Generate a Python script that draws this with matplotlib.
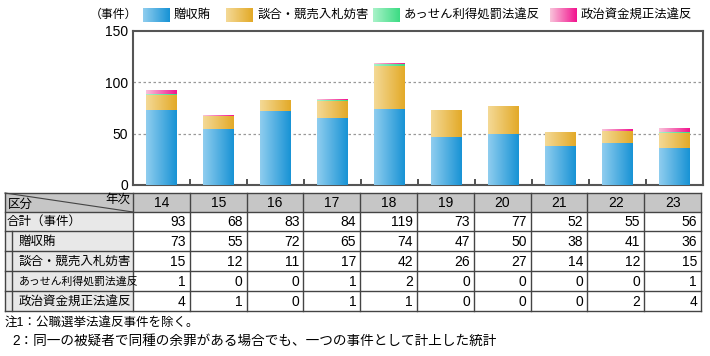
import numpy as np
import matplotlib
matplotlib.use('Agg')
import matplotlib.pyplot as plt
from matplotlib.colors import LinearSegmentedColormap

plt.rcParams['font.family'] = ['Liberation Sans', 'Noto Sans CJK JP']

years = ['14', '15', '16', '17', '18', '19', '20', '21', '22', '23']
bribery = [73, 55, 72, 65, 74, 47, 50, 38, 41, 36]
bid_rigging = [15, 12, 11, 17, 42, 26, 27, 14, 12, 15]
assen = [1, 0, 0, 1, 2, 0, 0, 0, 0, 1]
political = [4, 1, 0, 1, 1, 0, 0, 0, 2, 4]
totals = [93, 68, 83, 84, 119, 73, 77, 52, 55, 56]

series_names = ['贈収賄', '談合・競売入札妨害', 'あっせん利得処罰法違反', '政治資金規正法違反']
row_labels = ['合計（事件）'] + series_names
notes = ['注1：公職選挙法違反事件を除く。',
         '2：同一の被疑者で同種の余罪がある場合でも、一つの事件として計上した統計']

# light -> dark horizontal gradients
grad_colors = [('#8fcdef', '#1893d5'),
               ('#f4d996', '#e3aa28'),
               ('#a8f2c8', '#3ddc84'),
               ('#f9c2da', '#f2148f')]

W, H = 710, 356
fig = plt.figure(figsize=(W / 100, H / 100), dpi=100)

# overlay in pixel coordinates for legend + table + notes
ov = fig.add_axes([0, 0, 1, 1])
ov.axis('off')

# bar axes
L, R, T, B = 133, 703, 31, 185
ax = fig.add_axes([L / W, 1 - B / H, (R - L) / W, (B - T) / H])
x = np.arange(len(years))
bottom = np.zeros(len(years))
for vals, (c1, c2) in zip([bribery, bid_rigging, assen, political], grad_colors):
    cmap = LinearSegmentedColormap.from_list('g', [c1, c2])
    bars = ax.bar(x, vals, 0.54, bottom=bottom, facecolor='none', edgecolor='none', zorder=3)
    for p, v in zip(bars.patches, vals):
        if v <= 0:
            continue
        x0, y0 = p.get_x(), p.get_y()
        im = ax.imshow(np.linspace(0, 1, 64).reshape(1, -1), cmap=cmap, aspect='auto',
                       extent=(x0, x0 + p.get_width(), y0, y0 + p.get_height()),
                       zorder=3, interpolation='bilinear')
        im.set_clip_path(p)
    bottom += np.array(vals)

ax.set_xlim(-0.5, len(years) - 0.5)
ax.set_ylim(0, 150)
ax.set_yticks([0, 50, 100, 150])
ax.tick_params(axis='y', length=0, labelsize=10, pad=3.6)
ax.set_xticks(np.arange(len(years) - 1) + 0.5)
ax.set_xticklabels([])
ax.tick_params(axis='x', direction='in', length=4, width=1.2, color='#333333')
for yv in [50, 100]:
    ax.axhline(yv, color='#999999', lw=0.9, ls=(0, (2, 2)), zorder=1)
for s in ax.spines.values():
    s.set_color('#555555')
    s.set_linewidth(1.5)

# legend
ov.text(137, 15, '（事件）', fontsize=8.6, va='center', ha='right')
leg_x = [143, 226, 373, 550]
for lx, name, (c1, c2) in zip(leg_x, series_names, grad_colors):
    cmap = LinearSegmentedColormap.from_list('g', [c1, c2])
    ov.imshow(np.linspace(0, 1, 32).reshape(1, -1), cmap=cmap, aspect='auto',
              extent=(lx, lx + 27, 22, 8), interpolation='bilinear')
    ov.text(lx + 31, 15, name, fontsize=8.9, va='center', ha='left')

# table
row_y = [193, 212, 231, 251, 271, 291, 311]
col_x = np.linspace(L, 701, len(years) + 1)
tl, tr = 5, col_x[-1]
line_c = '#444444'
ov.fill_between([tl, L], row_y[0], row_y[1], color='#c6c6c6', lw=0)
ov.fill_between([L, tr], row_y[0], row_y[1], color='#c6c6c6', lw=0)
ov.fill_between([tl, L], row_y[1], row_y[-1], color='#e8e8e8', lw=0)
ov.fill_between([L, tr], row_y[1], row_y[-1], color='white', lw=0)
for yy in row_y:
    ov.plot([tl, tr], [yy, yy], color=line_c, lw=1)
ov.plot([tl, tl], [row_y[0], row_y[-1]], color=line_c, lw=1)
for cx in col_x:
    ov.plot([cx, cx], [row_y[0], row_y[-1]], color=line_c, lw=1)
ov.plot([12, 12], [row_y[2], row_y[-1]], color=line_c, lw=1)
ov.plot([tl, L], [row_y[0], row_y[1]], color=line_c, lw=0.8)
ov.text(8, row_y[1] - 1, '区分', fontsize=9, ha='left', va='bottom')
ov.text(L - 3, row_y[0] + 1, '年次', fontsize=9, ha='right', va='top')

for i, yr in enumerate(years):
    cx = (col_x[i] + col_x[i + 1]) / 2
    ov.text(cx, (row_y[0] + row_y[1]) / 2 + 0.5, yr, fontsize=10, ha='center', va='center')

table_rows = [totals, bribery, bid_rigging, assen, political]
for r, (label, vals) in enumerate(zip(row_labels, table_rows)):
    cy = (row_y[r + 1] + row_y[r + 2]) / 2 + 0.5
    lx = 7 if r == 0 else 19
    fs = 7.8 if label == 'あっせん利得処罰法違反' else 9
    ov.text(lx, cy, label, fontsize=fs, ha='left', va='center')
    for i, v in enumerate(vals):
        ov.text(col_x[i + 1] - 4, cy, str(v), fontsize=10, ha='right', va='center')

# notes
ov.text(5, 323, notes[0], fontsize=9, ha='left', va='center')
ov.text(12, 341, notes[1], fontsize=9.8, ha='left', va='center')

ov.set_xlim(0, W)
ov.set_ylim(H, 0)

fig.savefig('out.png', dpi=100)
